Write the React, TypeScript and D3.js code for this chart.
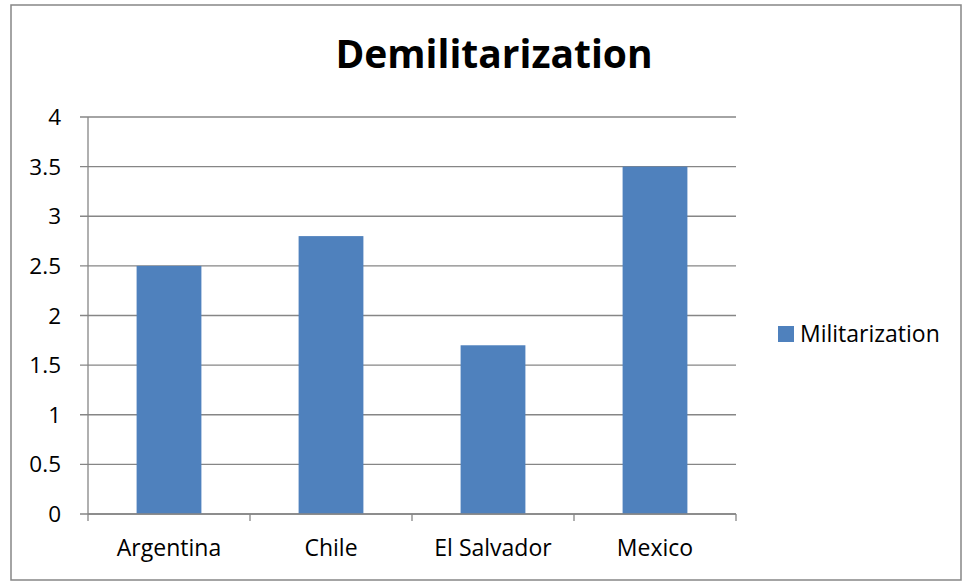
import React from 'react';
import * as d3 from 'd3';

const categories = ['Argentina', 'Chile', 'El Salvador', 'Mexico'];
const militarization = [2.5, 2.8, 1.7, 3.5];
const yTicks = [0, 0.5, 1, 1.5, 2, 2.5, 3, 3.5, 4];
const seriesName = 'Militarization';
const title = 'Demilitarization';

const W = 963;
const H = 582;
const font = '"Open Sans", "Noto Sans", sans-serif';

const App = () => {
  const left = 88;
  const right = 736;
  const top = 117;
  const bottom = 514;

  const x = d3.scaleBand().domain(categories).range([left, right]).paddingInner(0.6).paddingOuter(0.3);
  const band = d3.scaleBand().domain(categories).range([left, right]);
  const y = d3.scaleLinear().domain([0, 4]).range([bottom, top]);

  return (
    <svg width={W} height={H} style={{ position: 'absolute', left: 0, top: 0 }}>
      <rect x={11} y={5} width={950} height={575} fill="#fff" stroke="#868686" strokeWidth={1.5} />
      <text x={494} y={68} textAnchor="middle" fontFamily={font} fontWeight="bold" fontSize={39} fill="#000">
        {title}
      </text>
      {yTicks.map(t => (
        <g key={t}>
          <line x1={left - 8} x2={right} y1={y(t)} y2={y(t)} stroke="#868686" strokeWidth={1.3} />
          <text x={61} y={y(t)} dy="0.36em" textAnchor="end" fontFamily={font} fontSize={22.5} fill="#000">
            {t}
          </text>
        </g>
      ))}
      <line x1={left} x2={left} y1={top} y2={bottom} stroke="#868686" strokeWidth={1.3} />
      {categories.map((c, i) => (
        <rect
          key={c}
          x={x(c)}
          y={y(militarization[i])}
          width={x.bandwidth()}
          height={bottom - y(militarization[i])}
          fill="#4F81BD"
        />
      ))}
      <line x1={left} x2={right} y1={bottom} y2={bottom} stroke="#868686" strokeWidth={1.3} />
      {[...categories.map(c => band(c) as number), right].map((p, i) => (
        <line key={i} x1={p} x2={p} y1={bottom} y2={bottom + 7} stroke="#868686" strokeWidth={1.3} />
      ))}
      {categories.map(c => (
        <text
          key={c}
          x={(band(c) as number) + band.bandwidth() / 2}
          y={556}
          textAnchor="middle"
          fontFamily={font}
          fontSize={23}
          fill="#000"
        >
          {c}
        </text>
      ))}
      <rect x={778} y={326} width={16} height={16} fill="#4F81BD" />
      <text x={800} y={342} fontFamily={font} fontSize={23} fill="#000">
        {seriesName}
      </text>
    </svg>
  );
};

export default App;
